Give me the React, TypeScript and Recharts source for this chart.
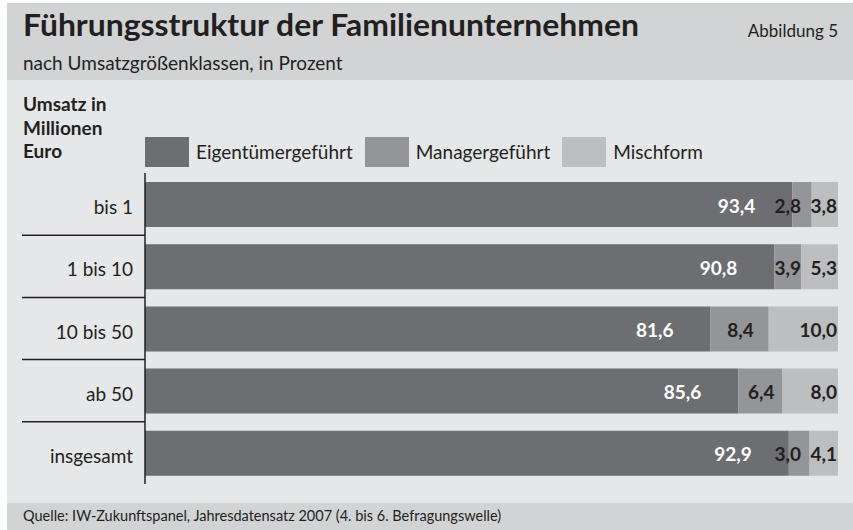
import { BarChart, Bar, XAxis, YAxis, LabelList } from 'recharts';

// Umsatzklassen (Mio. Euro)
const categories = ['bis 1', '1 bis 10', '10 bis 50', 'ab 50', 'insgesamt'];

// Anteile in Prozent
const eigentuemer = [93.4, 90.8, 81.6, 85.6, 92.9];
const manager = [2.8, 3.9, 8.4, 6.4, 3.0];
const mischform = [3.8, 5.3, 10.0, 8.0, 4.1];

const seriesNames = ['Eigentümergeführt', 'Managergeführt', 'Mischform'];

const COLORS = ['#6d6e71', '#939598', '#bcbec0'];
const TEXT = '#231f20';
const FONT = 'Lato, "Open Sans", sans-serif';

const W = 853;
const H = 530;
const MARGIN = { top: 173, right: 15, bottom: 46, left: 0 };
const AXIS_W = 145;
const PLOT_RIGHT = W - MARGIN.right;
const BAND = (H - MARGIN.top - MARGIN.bottom) / categories.length;

const data = categories.map((name, i) => ({
  name,
  eig: eigentuemer[i],
  man: manager[i],
  mix: mischform[i],
}));

const fmt = (v: number) => v.toFixed(1).replace('.', ',');
const textW = (s: string) => s.length * 9.4;

const CategoryTick = (props: any) => {
  const { y, payload, index } = props;
  return (
    <g>
      <text
        x={AXIS_W - 12}
        y={y + 10}
        textAnchor="end"
        fill={TEXT}
        fontSize={19}
        fontFamily={FONT}
      >
        {payload.value}
      </text>
      {index < categories.length - 1 && (
        <line
          x1={22}
          x2={AXIS_W}
          y1={y + BAND / 2}
          y2={y + BAND / 2}
          stroke={TEXT}
          strokeWidth={1.5}
        />
      )}
    </g>
  );
};

// dark segment: label sits ~37px left of segment end, white
const EigLabel = (props: any) => {
  const { x, y, width, height, value } = props;
  return (
    <text
      x={x + width - 37}
      y={y + height / 2 + 8}
      textAnchor="end"
      fill="#ffffff"
      fontSize={19}
      fontWeight={700}
      fontFamily={FONT}
    >
      {fmt(value)}
    </text>
  );
};

// middle segment: centered, but kept clear of the Mischform label
const ManLabel = (props: any) => {
  const { x, y, width, height, value } = props;
  const s = fmt(value);
  const right = Math.min(x + width / 2 + textW(s) / 2, PLOT_RIGHT - 37);
  return (
    <text
      x={right}
      y={y + height / 2 + 8}
      textAnchor="end"
      fill={TEXT}
      fontSize={19}
      fontWeight={700}
      fontFamily={FONT}
    >
      {s}
    </text>
  );
};

const MixLabel = (props: any) => {
  const { x, y, width, height, value } = props;
  return (
    <text
      x={x + width - 1}
      y={y + height / 2 + 8}
      textAnchor="end"
      fill={TEXT}
      fontSize={19}
      fontWeight={700}
      fontFamily={FONT}
    >
      {fmt(value)}
    </text>
  );
};

export default function App() {
  return (
    <div
      style={{
        position: 'absolute',
        left: 0,
        top: 0,
        width: W,
        height: H,
        background: '#ffffff',
        fontFamily: FONT,
      }}
    >
      {/* background bands + header / footer text */}
      <svg width={W} height={H} style={{ position: 'absolute', left: 0, top: 0 }}>
        <rect x={7} y={3} width={W - 7} height={77} fill="#d1d3d4" />
        <rect x={7} y={80} width={W - 7} height={423} fill="#e6e7e8" />
        <rect x={7} y={503} width={W - 7} height={27} fill="#d1d3d4" />

        <text
          x={23}
          y={36}
          fill={TEXT}
          fontSize={30}
          fontWeight={700}
          fontFamily={FONT}
          textLength={616}
          lengthAdjust="spacingAndGlyphs"
        >
          Führungsstruktur der Familienunternehmen
        </text>
        <text x={838} y={37} textAnchor="end" fill={TEXT} fontSize={17} fontFamily={FONT}>
          Abbildung 5
        </text>
        <text x={23} y={70} fill={TEXT} fontSize={19} fontFamily={FONT}>
          nach Umsatzgrößenklassen, in Prozent
        </text>

        <text fill={TEXT} fontSize={19} fontWeight={700} fontFamily={FONT}>
          <tspan x={23} y={111}>Umsatz in</tspan>
          <tspan x={23} y={135}>Millionen</tspan>
          <tspan x={23} y={158}>Euro</tspan>
        </text>

        <text x={23} y={521} fill={TEXT} fontSize={14.5} fontFamily={FONT}>
          Quelle: IW-Zukunftspanel, Jahresdatensatz 2007 (4. bis 6. Befragungswelle)
        </text>
      </svg>

      {/* legend */}
      <div
        style={{
          position: 'absolute',
          left: 145,
          top: 137,
          height: 30,
          display: 'flex',
          alignItems: 'center',
        }}
      >
        {seriesNames.map((n, i) => (
          <div key={n} style={{ display: 'flex', alignItems: 'center', marginRight: 12 }}>
            <div style={{ width: 44, height: 30, background: COLORS[i] }} />
            <span style={{ marginLeft: 7, fontSize: 19, color: TEXT, lineHeight: '30px' }}>{n}</span>
          </div>
        ))}
      </div>

      <div style={{ position: 'absolute', left: 0, top: 0 }}>
        <BarChart width={W} height={H} data={data} layout="vertical" margin={MARGIN}>
          <XAxis type="number" domain={[0, 100]} hide />
          <YAxis
            type="category"
            dataKey="name"
            width={AXIS_W}
            axisLine={{ stroke: TEXT, strokeWidth: 1.5 }}
            tickLine={false}
            tick={<CategoryTick />}
            interval={0}
          />
          <Bar dataKey="eig" stackId="a" fill={COLORS[0]} barSize={45} isAnimationActive={false}>
            <LabelList dataKey="eig" content={<EigLabel />} />
          </Bar>
          <Bar dataKey="man" stackId="a" fill={COLORS[1]} barSize={45} isAnimationActive={false}>
            <LabelList dataKey="man" content={<ManLabel />} />
          </Bar>
          <Bar dataKey="mix" stackId="a" fill={COLORS[2]} barSize={45} isAnimationActive={false}>
            <LabelList dataKey="mix" content={<MixLabel />} />
          </Bar>
        </BarChart>
      </div>
    </div>
  );
}
